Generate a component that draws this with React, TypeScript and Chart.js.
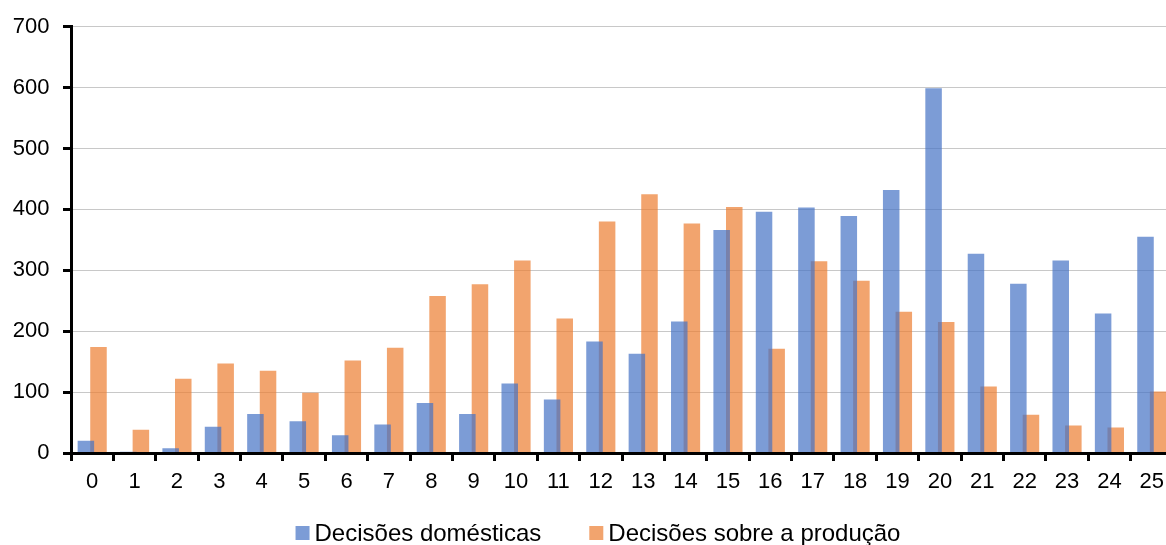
import React, { useEffect, useRef } from "react";
import { Chart, registerables } from "chart.js";

Chart.register(...registerables);

const categories = ["0", "1", "2", "3", "4", "5", "6", "7", "8", "9", "10", "11", "12", "13", "14", "15", "16", "17", "18", "19", "20", "21", "22", "23", "24", "25"];
const domestic = [20, 2, 8, 43, 64, 52, 29, 47, 82, 64, 114, 88, 183, 163, 216, 366, 396, 403, 389, 432, 599, 327, 278, 316, 229, 355];
const production = [174, 38, 122, 147, 135, 99, 152, 173, 258, 277, 316, 221, 380, 425, 377, 404, 171, 315, 283, 232, 215, 109, 63, 45, 42, 101];
const seriesNames = ["Decisões domésticas", "Decisões sobre a produção"];
const yMin = 0;
const yMax = 700;
const yStep = 100;

const FONT = '"Liberation Sans", Arial, sans-serif';
const BLUE = "rgba(68,114,196,0.7)";
const ORANGE = "rgba(237,125,49,0.7)";

const legendPlugin = {
  id: "bottomLegend",
  afterDraw(chart: any) {
    const ctx = chart.ctx;
    const ds = chart.data.datasets;
    ctx.save();
    ctx.font = `24px ${FONT}`;
    const box = 14;
    const gap = 5;
    const itemGap = 48;
    const widths = ds.map((d: any) => ctx.measureText(d.label).width);
    const total = widths.reduce((s: number, w: number) => s + box + gap + w, 0) + itemGap * (ds.length - 1);
    let x = 598 - total / 2;
    ds.forEach((d: any, i: number) => {
      ctx.fillStyle = d.backgroundColor;
      ctx.fillRect(x, 526, box, box);
      ctx.fillStyle = "#000";
      ctx.textBaseline = "alphabetic";
      ctx.textAlign = "left";
      ctx.fillText(d.label, x + box + gap, 541);
      x += box + gap + widths[i] + itemGap;
    });
    ctx.restore();
  },
};

export default function App() {
  const ref = useRef<HTMLCanvasElement | null>(null);

  useEffect(() => {
    if (!ref.current) return;
    const chart = new Chart(ref.current, {
      type: "bar",
      data: {
        labels: categories,
        datasets: [
          {
            label: seriesNames[0],
            data: domestic,
            backgroundColor: BLUE,
            categoryPercentage: 0.595,
            barPercentage: 1.31,
          },
          {
            label: seriesNames[1],
            data: production,
            backgroundColor: ORANGE,
            categoryPercentage: 0.595,
            barPercentage: 1.31,
          },
        ],
      },
      plugins: [legendPlugin],
      options: {
        animation: false,
        responsive: true,
        maintainAspectRatio: false,
        layout: { padding: { top: 23, bottom: 52, left: 0, right: 0 } },
        plugins: {
          legend: { display: false },
          tooltip: { enabled: false },
        },
        scales: {
          x: {
            offset: true,
            grid: {
              offset: true,
              drawOnChartArea: false,
              drawTicks: true,
              tickLength: 8,
              tickColor: "#000",
              tickWidth: 3,
            },
            border: { display: true, color: "#000", width: 3, z: 1 },
            ticks: {
              color: "#000",
              font: { size: 22, family: FONT },
              padding: 8,
              maxRotation: 0,
              autoSkip: false,
            },
            afterFit(scale: any) {
              scale.height = 40;
            },
          },
          y: {
            min: yMin,
            max: yMax,
            grid: {
              color: "#c8c8c8",
              lineWidth: 1,
              tickLength: 8,
              tickColor: "#000",
              tickWidth: 3,
            },
            border: { display: true, color: "#000", width: 3, z: 1 },
            ticks: {
              stepSize: yStep,
              color: "#000",
              font: { size: 22, family: FONT },
              padding: 13.5,
            },
            afterFit(scale: any) {
              scale.width = 71;
            },
          },
        },
      },
    });
    return () => chart.destroy();
  }, []);

  return (
    <div style={{ position: "fixed", left: 0, top: 0, width: 1166, height: 545, overflow: "hidden", background: "#fff" }}>
      <div style={{ position: "relative", width: 1173, height: 545 }}>
        <canvas ref={ref} />
      </div>
    </div>
  );
}
